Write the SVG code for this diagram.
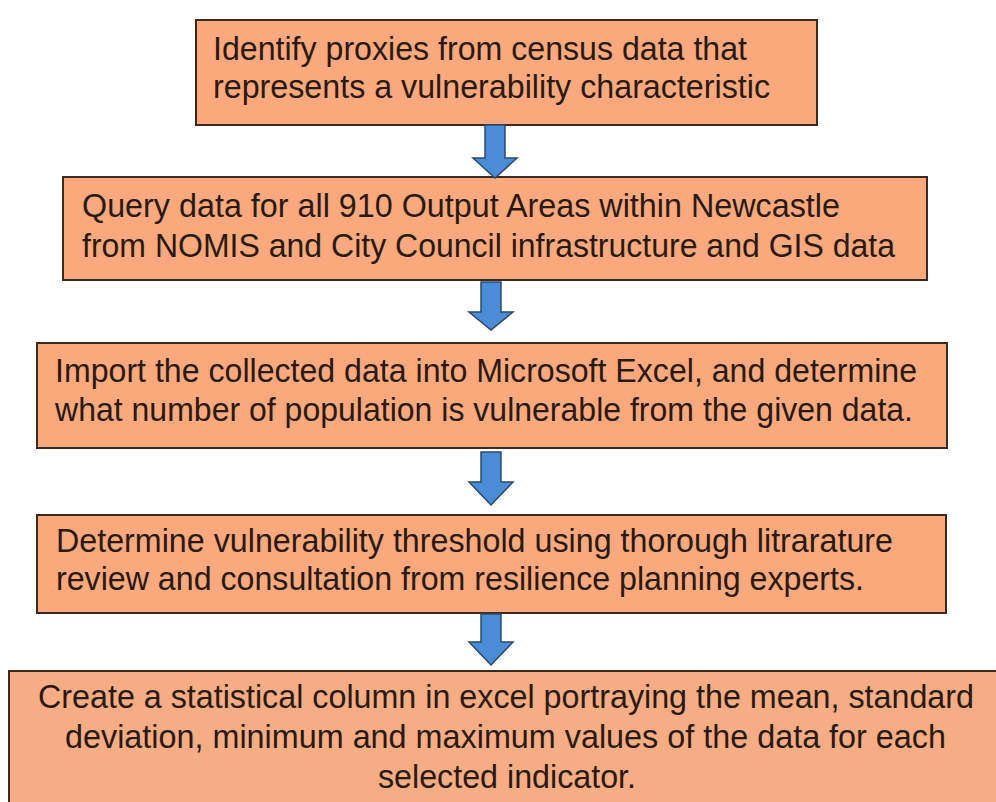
<svg xmlns="http://www.w3.org/2000/svg" width="996" height="802" viewBox="0 0 996 802">
<style>
.box{fill:#F9A97D;stroke:#3A2A20;stroke-width:2}
.t{font-family:"Liberation Sans",Arial,sans-serif;font-size:34px;fill:#2B1A12}
.arr{fill:#4A8DD6;stroke:#2E4868;stroke-width:1.5;stroke-linejoin:miter}
</style>
<rect width="996" height="802" fill="#FFFFFF"/>
<g id="node1">
<rect class="box" x="196" y="20" width="621" height="105"/>
<text class="t" x="213" y="60" textLength="534" lengthAdjust="spacingAndGlyphs">Identify proxies from census data that</text>
<text class="t" x="213" y="98" textLength="557" lengthAdjust="spacingAndGlyphs">represents a vulnerability characteristic</text>
</g>
<g id="node2">
<rect class="box" x="63" y="177" width="864" height="103"/>
<text class="t" x="82" y="217" textLength="758" lengthAdjust="spacingAndGlyphs">Query data for all 910 Output Areas within Newcastle</text>
<text class="t" x="82" y="257" textLength="813" lengthAdjust="spacingAndGlyphs">from NOMIS and City Council infrastructure and GIS data</text>
</g>
<g id="node3">
<rect class="box" x="37" y="343" width="910" height="105"/>
<text class="t" x="55" y="382" textLength="862" lengthAdjust="spacingAndGlyphs">Import the collected data into Microsoft Excel, and determine</text>
<text class="t" x="55" y="421" textLength="858" lengthAdjust="spacingAndGlyphs">what number of population is vulnerable from the given data.</text>
</g>
<g id="node4">
<rect class="box" x="37" y="515" width="909" height="98"/>
<text class="t" x="56" y="552" textLength="837" lengthAdjust="spacingAndGlyphs">Determine vulnerability threshold using thorough litrarature</text>
<text class="t" x="56" y="590" textLength="808" lengthAdjust="spacingAndGlyphs">review and consultation from resilience planning experts.</text>
</g>
<g id="node5">
<rect class="box" x="9" y="671" width="995" height="140" style="fill:#F6AC84"/>
<text class="t" x="38" y="708" textLength="936" lengthAdjust="spacingAndGlyphs">Create a statistical column in excel portraying the mean, standard</text>
<text class="t" x="65" y="748" textLength="881" lengthAdjust="spacingAndGlyphs">deviation, minimum and maximum values of the data for each</text>
<text class="t" x="378" y="788" textLength="258" lengthAdjust="spacingAndGlyphs">selected indicator.</text>
</g>
<g id="connectors">
<polygon class="arr" points="485,125 505,125 505,158 517,158 495,178 473,158 485,158"/>
<polygon class="arr" points="481,282 501,282 501,312 513,312 491,330 469,312 481,312"/>
<polygon class="arr" points="481,452 501,452 501,482 513,482 491,505 469,482 481,482"/>
<polygon class="arr" points="481,614 501,614 501,642 513,642 491,665 469,642 481,642"/>
</g>
</svg>
